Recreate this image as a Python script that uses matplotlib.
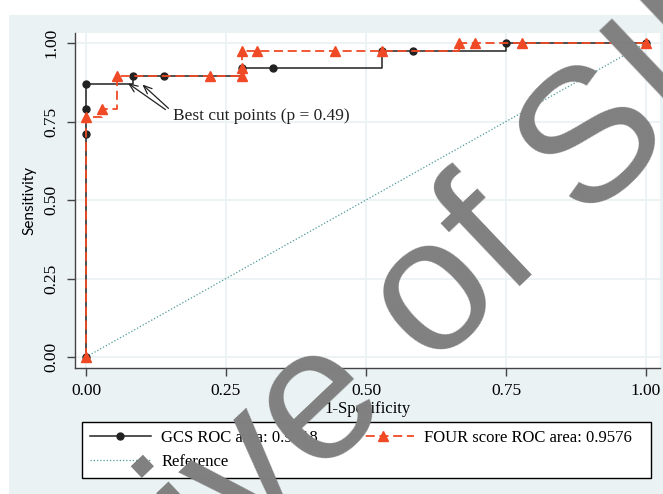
import matplotlib
matplotlib.use('Agg')
import matplotlib.pyplot as plt
from matplotlib.patches import Rectangle
from matplotlib.lines import Line2D

# ROC points (1-specificity, sensitivity); 36 negatives, 38 positives
gcs_fpr = [0.0, 0.0, 0.0, 0.0, 0.0833, 0.1389, 0.2778, 0.3333, 0.5278, 0.5833, 0.75, 1.0]
gcs_tpr = [0.0, 0.7105, 0.7895, 0.8684, 0.8947, 0.8947, 0.9211, 0.9211, 0.9737, 0.9737, 1.0, 1.0]

four_fpr = [0.0, 0.0, 0.0278, 0.0556, 0.2222, 0.2778, 0.2778, 0.2778, 0.3056, 0.4444, 0.5278,
            0.6667, 0.6944, 0.7778, 1.0]
four_tpr = [0.0, 0.7632, 0.7895, 0.8947, 0.8947, 0.8947, 0.9211, 0.9737, 0.9737, 0.9737, 0.9737,
            1.0, 1.0, 1.0, 1.0]

ref_x = [0.0, 1.0]
ref_y = [0.0, 1.0]

ticks = [0.0, 0.25, 0.5, 0.75, 1.0]
tick_labels = ['0.00', '0.25', '0.50', '0.75', '1.00']

gcs_label = 'GCS ROC area: 0.9518'
four_label = 'FOUR score ROC area: 0.9576'
ref_label = 'Reference'

bg_colour = '#EAF2F3'
orange = '#EF4A25'
black = '#222222'
teal = '#4E9A9A'
serif = 'Liberation Serif'

fig = plt.figure(figsize=(6.63, 4.94), dpi=100)
fig.patches.append(Rectangle((9 / 663, 0), 1, 1 - 15 / 494, transform=fig.transFigure,
                             facecolor=bg_colour, edgecolor='none', zorder=-10))

ax = fig.add_axes([75 / 663, 1 - 368 / 494, (660 - 75) / 663, (368 - 33) / 494])
ax.set_facecolor('white')

ax.plot(gcs_fpr, gcs_tpr, drawstyle='steps-post', color=black, lw=1.1, zorder=3)
ax.plot(gcs_fpr, gcs_tpr, ls='none', marker='o', ms=5, color=black, zorder=4)
ax.plot(four_fpr, four_tpr, drawstyle='steps-post', color=orange, lw=1.3,
        linestyle=(0, (5, 2.6)), zorder=5)
ax.plot(four_fpr, four_tpr, ls='none', marker='^', ms=6.5, color=orange, zorder=6)
ax.plot(ref_x, ref_y, color=teal, lw=0.9, linestyle=(0, (1, 1.6)), zorder=2)

# annotation for the cut points
ax.annotate('', xy=(0.071, 0.877), xytext=(0.146, 0.783),
            arrowprops=dict(arrowstyle='->,head_length=0.6,head_width=0.25', lw=0.9, color=black))
ax.annotate('', xy=(0.097, 0.874), xytext=(0.151, 0.786),
            arrowprops=dict(arrowstyle='->,head_length=0.6,head_width=0.25', lw=0.9, color=black))
ax.text(0.155, 0.768, 'Best cut points (p = 0.49)', fontsize=12.5, family=serif,
        va='center', ha='left', color=black)

ax.set_xlim(-0.0196, 1.025)
ax.set_ylim(-0.035, 1.032)
ax.set_xticks(ticks)
ax.set_xticklabels(tick_labels, fontsize=12.5, family=serif)
ax.set_yticks(ticks)
ax.set_yticklabels(tick_labels, fontsize=12.5, family=serif, rotation=90, va='center')
ax.tick_params(axis='both', direction='out', length=6, width=1, color='#444444', pad=5)
ax.grid(True, color=bg_colour, lw=1.3)
ax.set_axisbelow(True)
for side in ['top', 'right']:
    ax.spines[side].set_visible(False)
for side in ['left', 'bottom']:
    ax.spines[side].set_color('#444444')
    ax.spines[side].set_linewidth(1.0)

ax.set_xlabel('1-Specificity', fontsize=12, family=serif, labelpad=1)
ax.set_ylabel('Sensitivity', fontsize=11, family='Lato', labelpad=5)

# legend box drawn by hand, entries placed inside it
fig.patches.append(Rectangle((82 / 663, 1 - 478 / 494), (651 - 82) / 663, 56 / 494,
                             transform=fig.transFigure, facecolor='white',
                             edgecolor='black', lw=1.0, zorder=1))
handles = [
    Line2D([], [], color=black, lw=1.1, marker='o', ms=5),
    Line2D([], [], color=teal, lw=0.9, linestyle=(0, (1, 1.6))),
    Line2D([], [], color=orange, lw=1.3, linestyle=(0, (5, 2.6)), marker='^', ms=6.5),
]
labels = [gcs_label, ref_label, four_label]
leg = fig.legend(handles, labels, loc='center', ncol=2, mode='expand',
                 bbox_to_anchor=(82 / 663, 1 - 478 / 494, (639 - 82) / 663, 56 / 494),
                 prop={'family': serif, 'size': 12}, handlelength=3.7, handletextpad=0.6,
                 labelspacing=0.45, borderpad=0.45, borderaxespad=0, frameon=False)

# watermark
fig.text(374 / 663, 1 - 425 / 494, 'Archive of SID', fontsize=137, family='Liberation Sans',
         color='#808080', rotation=43.5, rotation_mode='anchor', ha='center', va='baseline',
         zorder=20)

fig.savefig('out.png', dpi=100)
